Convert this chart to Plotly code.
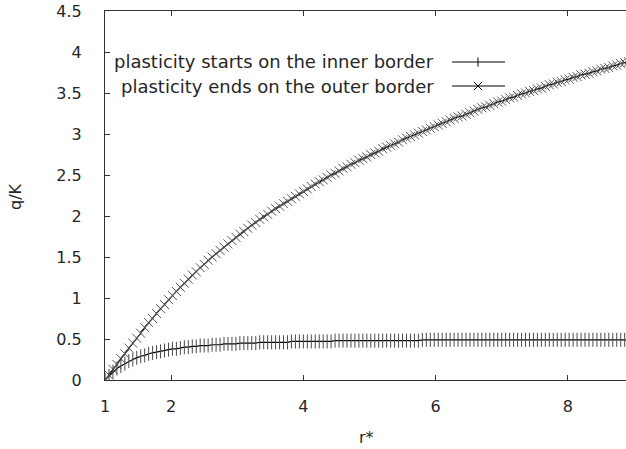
import plotly.graph_objects as go

# r* sample points (~0.06 apart)
r_star = [
    1.00, 1.06, 1.12, 1.18, 1.24, 1.30, 1.36, 1.42, 1.48, 1.54,
    1.60, 1.66, 1.72, 1.78, 1.84, 1.90, 1.96, 2.02, 2.08, 2.14,
    2.20, 2.26, 2.32, 2.38, 2.44, 2.50, 2.56, 2.62, 2.68, 2.74,
    2.80, 2.86, 2.92, 2.98, 3.04, 3.10, 3.16, 3.22, 3.28, 3.34,
    3.40, 3.46, 3.52, 3.58, 3.64, 3.70, 3.76, 3.82, 3.88, 3.94,
    4.00, 4.06, 4.12, 4.18, 4.24, 4.30, 4.36, 4.42, 4.48, 4.54,
    4.60, 4.66, 4.72, 4.78, 4.84, 4.90, 4.96, 5.02, 5.08, 5.14,
    5.20, 5.26, 5.32, 5.38, 5.44, 5.50, 5.56, 5.62, 5.68, 5.74,
    5.80, 5.86, 5.92, 5.98, 6.04, 6.10, 6.16, 6.22, 6.28, 6.34,
    6.40, 6.46, 6.52, 6.58, 6.64, 6.70, 6.76, 6.82, 6.88, 6.94,
    7.00, 7.06, 7.12, 7.18, 7.24, 7.30, 7.36, 7.42, 7.48, 7.54,
    7.60, 7.66, 7.72, 7.78, 7.84, 7.90, 7.96, 8.02, 8.08, 8.14,
    8.20, 8.26, 8.32, 8.38, 8.44, 8.50, 8.56, 8.62, 8.68, 8.74,
    8.80, 8.86, 8.92,
]

# plasticity starts on the inner border (q/K)
q_inner = [
    0.00, 0.05, 0.10, 0.14, 0.17, 0.20, 0.23, 0.25, 0.27, 0.29,
    0.30, 0.32, 0.33, 0.34, 0.35, 0.36, 0.37, 0.38, 0.38, 0.39,
    0.40, 0.40, 0.41, 0.41, 0.42, 0.42, 0.42, 0.43, 0.43, 0.43,
    0.44, 0.44, 0.44, 0.44, 0.45, 0.45, 0.45, 0.45, 0.45, 0.46,
    0.46, 0.46, 0.46, 0.46, 0.46, 0.46, 0.46, 0.47, 0.47, 0.47,
    0.47, 0.47, 0.47, 0.47, 0.47, 0.47, 0.47, 0.47, 0.48, 0.48,
    0.48, 0.48, 0.48, 0.48, 0.48, 0.48, 0.48, 0.48, 0.48, 0.48,
    0.48, 0.48, 0.48, 0.48, 0.48, 0.48, 0.48, 0.48, 0.48, 0.48,
    0.49, 0.49, 0.49, 0.49, 0.49, 0.49, 0.49, 0.49, 0.49, 0.49,
    0.49, 0.49, 0.49, 0.49, 0.49, 0.49, 0.49, 0.49, 0.49, 0.49,
    0.49, 0.49, 0.49, 0.49, 0.49, 0.49, 0.49, 0.49, 0.49, 0.49,
    0.49, 0.49, 0.49, 0.49, 0.49, 0.49, 0.49, 0.49, 0.49, 0.49,
    0.49, 0.49, 0.49, 0.49, 0.49, 0.49, 0.49, 0.49, 0.49, 0.49,
    0.49, 0.49, 0.49,
]

# plasticity ends on the outer border (q/K)
q_outer = [
    0.00, 0.06, 0.13, 0.19, 0.26, 0.32, 0.39, 0.45, 0.51, 0.57,
    0.64, 0.70, 0.75, 0.81, 0.87, 0.92, 0.98, 1.03, 1.08, 1.13,
    1.18, 1.23, 1.28, 1.32, 1.37, 1.41, 1.46, 1.50, 1.54, 1.58,
    1.62, 1.66, 1.70, 1.74, 1.78, 1.81, 1.85, 1.89, 1.92, 1.96,
    1.99, 2.02, 2.06, 2.09, 2.12, 2.15, 2.18, 2.21, 2.24, 2.27,
    2.30, 2.33, 2.36, 2.39, 2.42, 2.44, 2.47, 2.50, 2.52, 2.55,
    2.58, 2.60, 2.63, 2.65, 2.68, 2.70, 2.72, 2.75, 2.77, 2.79,
    2.82, 2.84, 2.86, 2.88, 2.90, 2.93, 2.95, 2.97, 2.99, 3.01,
    3.03, 3.05, 3.07, 3.09, 3.11, 3.13, 3.15, 3.17, 3.19, 3.21,
    3.22, 3.24, 3.26, 3.28, 3.30, 3.32, 3.33, 3.35, 3.37, 3.39,
    3.40, 3.42, 3.44, 3.45, 3.47, 3.49, 3.50, 3.52, 3.53, 3.55,
    3.56, 3.58, 3.60, 3.61, 3.63, 3.64, 3.66, 3.67, 3.69, 3.70,
    3.72, 3.73, 3.74, 3.76, 3.77, 3.79, 3.80, 3.81, 3.83, 3.84,
    3.86, 3.87, 3.88,
]

series_names = [
    "plasticity starts on the inner border",
    "plasticity ends on the outer border",
]

x_tickvals = [1, 2, 4, 6, 8]
y_tickvals = [0, 0.5, 1, 1.5, 2, 2.5, 3, 3.5, 4, 4.5]
y_ticktext = ["0", "0.5", "1", "1.5", "2", "2.5", "3", "3.5", "4", "4.5"]

FONT = "DejaVu Sans"
TXT = "#262626"
TICK_SIZE = 16
LEG_SIZE = 18

fig = go.Figure()
fig.add_trace(go.Scatter(
    x=r_star, y=q_inner, mode="lines+markers", name=series_names[0],
    line=dict(color="black", width=1.2),
    marker=dict(symbol="line-ns", size=10, color="#4a4a4a",
                line=dict(color="#4a4a4a", width=1)),
    showlegend=False,
))
fig.add_trace(go.Scatter(
    x=r_star, y=q_outer, mode="lines+markers", name=series_names[1],
    line=dict(color="black", width=1.2),
    marker=dict(symbol="x-thin", size=9, color="#555555",
                line=dict(color="#555555", width=1)),
    showlegend=False,
))

W, H = 626, 449
L, R, T, B = 105, 0, 11, 69
pw, ph = W - L - R, H - T - B

def px(xp):
    return (xp - L) / pw

def py(yp):
    return (H - B - yp) / ph

shapes = []
annotations = []
rows = [62, 86]
for k, (name, yrow) in enumerate(zip(series_names, rows)):
    annotations.append(dict(
        x=px(436), y=py(yrow), xref="paper", yref="paper",
        text=name, showarrow=False, xanchor="right", yanchor="middle",
        font=dict(family=FONT, size=LEG_SIZE, color=TXT),
    ))
    shapes.append(dict(type="line", xref="paper", yref="paper",
                       x0=px(452), x1=px(505), y0=py(yrow), y1=py(yrow),
                       line=dict(color="black", width=1)))
    cx = 478
    if k == 0:
        shapes.append(dict(type="line", xref="paper", yref="paper",
                           x0=px(cx), x1=px(cx), y0=py(yrow - 4.5), y1=py(yrow + 4.5),
                           line=dict(color="black", width=1)))
    else:
        for s in (-1, 1):
            shapes.append(dict(type="line", xref="paper", yref="paper",
                               x0=px(cx - 4), x1=px(cx + 4),
                               y0=py(yrow - 4 * s), y1=py(yrow + 4 * s),
                               line=dict(color="black", width=1)))

annotations.append(dict(x=px(15), y=py(197), xref="paper", yref="paper",
                        text="q/K", showarrow=False, textangle=-90,
                        xanchor="center", yanchor="middle",
                        font=dict(family=FONT, size=TICK_SIZE, color=TXT)))
annotations.append(dict(x=px(366), y=py(437), xref="paper", yref="paper",
                        text="r*", showarrow=False,
                        xanchor="center", yanchor="middle",
                        font=dict(family=FONT, size=TICK_SIZE, color=TXT)))

fig.update_layout(
    width=W, height=H,
    margin=dict(l=L, r=R, t=T, b=B, pad=0),
    paper_bgcolor="white", plot_bgcolor="white",
    font=dict(family=FONT, size=TICK_SIZE, color=TXT),
    shapes=shapes, annotations=annotations,
    hovermode=False,
    xaxis=dict(range=[1, 8.88], tickvals=x_tickvals, ticks="inside", ticklen=5,
               tickcolor="#333333", showline=True, linecolor="#333333", linewidth=1,
               mirror="ticks", showgrid=False, zeroline=False,
               ticklabelstandoff=12, tickfont=dict(family=FONT, size=TICK_SIZE, color=TXT)),
    yaxis=dict(range=[0, 4.5], tickvals=y_tickvals, ticktext=y_ticktext,
               ticks="inside", ticklen=5, tickcolor="#333333",
               showline=True, linecolor="#333333", linewidth=1, mirror=False,
               showgrid=False, zeroline=False, ticklabelstandoff=19,
               tickfont=dict(family=FONT, size=TICK_SIZE, color=TXT)),
)

fig.write_html(
    "out.html",
    config={"displayModeBar": False},
    post_script="document.body.style.margin='0';document.body.style.overflow='hidden';",
)
